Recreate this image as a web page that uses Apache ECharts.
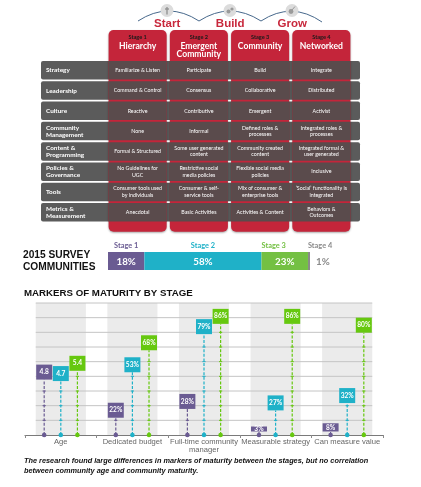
<!DOCTYPE html>
<html><head><meta charset="utf-8">
<script src="https://cdn.jsdelivr.net/npm/echarts@6.0.0/dist/echarts.min.js"></script>
<style>html,body{margin:0;padding:0;background:#fff}#c{width:421px;height:487px}</style>
</head><body><div id="c"></div>
<script>
// ---------- data ----------
const journey = ['Start', 'Build', 'Grow'];
const stageNames = ['Stage 1', 'Stage 2', 'Stage 3', 'Stage 4'];
const stageTitles = ['Hierarchy', 'Emergent\nCommunity', 'Community', 'Networked'];
const rowLabels = ['Strategy', 'Leadership', 'Culture', 'Community\nManagement', 'Content &\nProgramming', 'Policies &\nGovernance', 'Tools', 'Metrics &\nMeasurement'];
const strategyRow = ['Familiarize & Listen', 'Participate', 'Build', 'Integrate'];
const leadershipRow = ['Command & Control', 'Consensus', 'Collaborative', 'Distributed'];
const cultureRow = ['Reactive', 'Contributive', 'Emergent', 'Activist'];
const communityMgmtRow = ['None', 'Informal', 'Defined roles &\nprocesses', 'Integrated roles &\nprocesses'];
const contentRow = ['Formal & Structured', 'Some user generated\ncontent', 'Community created\ncontent', 'Integrated formal &\nuser generated'];
const policiesRow = ['No Guidelines for\nUGC', 'Restrictive social\nmedia policies', 'Flexible social media\npolicies', 'Inclusive'];
const toolsRow = ['Consumer tools used\nby individuals', 'Consumer & self-\nservice tools', 'Mix of consumer &\nenterprise tools', '\u2018Social\u2019 functionality is\nintegrated'];
const metricsRow = ['Anecdotal', 'Basic Activities', 'Activities & Content', 'Behaviors &\nOutcomes'];
const tableRows = [strategyRow, leadershipRow, cultureRow, communityMgmtRow, contentRow, policiesRow, toolsRow, metricsRow];

const surveyTitle = '2015 SURVEY\nCOMMUNITIES';
const surveyStages = ['Stage 1', 'Stage 2', 'Stage 3', 'Stage 4'];
const surveyShare = [18, 58, 23, 1];

const markersTitle = 'MARKERS OF MATURITY BY STAGE';
const markerCategories = ['Age', 'Dedicated budget', 'Full-time community\nmanager', 'Measurable strategy', 'Can measure value'];
const markerStages = ['Stage 1', 'Stage 2', 'Stage 3'];
const stage1Markers = [4.8, 22, 28, 3, 8];
const stage2Markers = [4.7, 53, 79, 27, 32];
const stage3Markers = [5.4, 68, 86, 86, 80];
const markerUnits = ['', '%', '%', '%', '%'];
const ageScale = 10;           // 1 year of age is drawn like 10 points on the % axis
const gridValues = [10, 20, 30, 40, 50, 60, 70, 80, 90];
const caption = 'The research found large differences in markers of maturity between the stages, but no correlation\nbetween community age and community maturity.';

// ---------- styles ----------
const RED = '#c4253a';
const surveyColors = ['#6a5b92', '#1fb1c8', '#74c043', '#8a8a8a'];
const markerColors = ['#6a5b92', '#1fb1c8', '#66c80f'];
const TF = 'Lato, "Liberation Sans", sans-serif';

const chart = echarts.init(document.getElementById('c'), null, {renderer: 'canvas'});

// ---- table renderers ----
function rowBandRender(params, api) {
  const r = api.value(1);
  const cs = params.coordSys;
  const c = api.coord([0, r]);
  const bh = api.size([0, 1])[1];
  const top = c[1] - bh / 2;
  const h = bh - 1.8;
  const left = cs.x - 66;
  return {type: 'group', children: [
    {type: 'rect', shape: {x: left, y: top, width: cs.width + 74, height: h, r: 2}, style: {fill: '#5b5b5b'}},
    {type: 'text', style: {x: left + 5, y: top + h / 2, text: rowLabels[r], fill: '#fff', fontFamily: TF, fontWeight: 'bold', fontSize: 6.4, lineHeight: 7, verticalAlign: 'middle', align: 'left'}}
  ]};
}
function columnRender(params, api) {
  const i = api.value(0);
  const cs = params.coordSys;
  const cx = api.coord([i, 0])[0];
  const w = api.size([1, 0])[0] - 3.2;
  const top = cs.y - 31;
  const bottom = cs.y + cs.height + 8.5;
  return {type: 'group', children: [
    {type: 'rect', shape: {x: cx - w / 2, y: top, width: w, height: bottom - top, r: 5}, style: {fill: RED, shadowBlur: 2, shadowColor: 'rgba(0,0,0,0.35)', shadowOffsetY: 1}},
    {type: 'text', style: {x: cx, y: top + 7.5, text: stageNames[i], fill: '#1a1a1a', fontFamily: TF, fontWeight: 'bold', fontSize: 5.6, align: 'center', verticalAlign: 'middle'}},
    {type: 'text', style: {x: cx, y: top + 12, text: stageTitles[i], fill: '#fff', fontFamily: TF, fontWeight: 'bold', fontSize: 8.6, lineHeight: 8.4, align: 'center', verticalAlign: 'top'}}
  ]};
}
function cellRender(params, api) {
  const col = api.value(0), row = api.value(1);
  const c = api.coord([col, row]);
  const bw = api.size([1, 0])[0] - 3.2;
  const bh = api.size([0, 1])[1];
  const top = c[1] - bh / 2;
  const h = bh - 1.8;
  return {type: 'group', children: [
    {type: 'rect', shape: {x: c[0] - bw / 2, y: top, width: bw, height: h}, style: {fill: '#5a4b4c'}},
    {type: 'text', style: {x: c[0], y: top + h / 2, text: tableRows[row][col], fill: '#fff', fontFamily: TF, fontSize: 5.3, lineHeight: 6.6, align: 'center', verticalAlign: 'middle'}}
  ]};
}

// ---- survey bar ----
const surveyStarts = surveyShare.map((v, i) => surveyShare.slice(0, i).reduce((a, b) => a + b, 0));
function surveyRender(params, api) {
  const s = api.value(0), v = api.value(1), i = api.value(2);
  const p0 = api.coord([s, 0]);
  const p1 = api.coord([s + v, 0]);
  const h = api.size([0, 1])[1];
  const top = p0[1] - h / 2;
  const col = surveyColors[i];
  const ch = [
    {type: 'rect', shape: {x: p0[0], y: top, width: p1[0] - p0[0], height: h}, style: {fill: col}}
  ];
  const pct = surveyShare[i] + '%';
  if (i < 3) {
    ch.push({type: 'text', style: {x: (p0[0] + p1[0]) / 2, y: p0[1] + 0.5, text: pct, fill: '#fff', fontFamily: TF, fontWeight: 'bold', fontSize: 9.8, align: 'center', verticalAlign: 'middle'}});
  } else {
    ch.push({type: 'text', style: {x: p1[0] + 6, y: p0[1] + 0.5, text: pct, fill: col, fontFamily: TF, fontWeight: 'bold', fontSize: 9.8, align: 'left', verticalAlign: 'middle'}});
  }
  const centred = i < 2;
  ch.push({type: 'text', style: {x: centred ? (p0[0] + p1[0]) / 2 : p0[0], y: top - 2.5, text: surveyStages[i], fill: col, fontFamily: TF, fontWeight: 'bold', fontSize: 7.4, align: centred ? 'center' : 'left', verticalAlign: 'bottom'}});
  return {type: 'group', children: ch};
}

// ---- markers ----
function bandRender(params, api) {
  const i = api.value(0);
  const bw = api.size([1, 0])[0];
  const b = api.coord([i, 0]);
  const t = api.coord([i, gridValues[gridValues.length - 1]]);
  return {type: 'rect', shape: {x: b[0] - bw * 0.35, y: t[1], width: bw * 0.7, height: b[1] - t[1]}, style: {fill: '#ebebeb'}};
}
function gridRender(params, api) {
  const v = api.value(0);
  const bw = api.size([1, 0])[0];
  const a = api.coord([0, v]);
  const b = api.coord([markerCategories.length - 1, v]);
  return {type: 'line', shape: {x1: a[0] - bw * 0.35, y1: a[1], x2: b[0] + bw * 0.35, y2: b[1]}, style: {stroke: '#c4c4c4', lineWidth: 1}};
}
const markerSets = [stage1Markers, stage2Markers, stage3Markers];
function stemRenderer(s) {
  const color = markerColors[s];
  return function (params, api) {
    const i = api.value(0), v = api.value(1);
    const bw = api.size([1, 0])[0];
    const base = api.coord([i, 0]);
    const x = base[0] + (s - 1) * 0.232 * bw;
    const y0 = base[1];
    const yv = api.coord([i, v])[1];
    let top = yv, bottom = Math.min(yv + 15, y0 - 3.5);
    if (bottom - top < 5) top = bottom - 5;
    const ch = [];
    ch.push({type: 'line', shape: {x1: x, y1: y0, x2: x, y2: bottom}, style: {stroke: color, lineWidth: 1.2, lineDash: [3, 1.6]}});
    gridValues.forEach(g => {
      const yg = api.coord([i, g])[1];
      if (yg > bottom + 1.5) ch.push({type: 'line', shape: {x1: x - 1.6, y1: yg, x2: x + 1.6, y2: yg}, style: {stroke: color, lineWidth: 1}});
    });
    ch.push({type: 'circle', shape: {cx: x, cy: y0, r: 2.3}, style: {fill: color}});
    ch.push({type: 'rect', shape: {x: x - 8, y: top, width: 16, height: bottom - top}, style: {fill: color}});
    const raw = markerSets[s][i];
    ch.push({type: 'text', style: {x: x, y: Math.min((top + bottom) / 2, top + 7.5), text: raw + markerUnits[i], fill: '#fff', fontFamily: TF, fontWeight: 'bold', fontSize: 6.6, align: 'center', verticalAlign: 'middle'}});
    return {type: 'group', children: ch};
  };
}

// ---- decorative journey arc ----
const arcPts = [[138, 21], [199, 21], [261, 21], [322, 22]];
const circleX = [167, 230, 292];
const graphic = [];
for (let k = 0; k < 3; k++) {
  graphic.push({type: 'bezierCurve', shape: {x1: arcPts[k][0], y1: arcPts[k][1], x2: arcPts[k + 1][0], y2: arcPts[k + 1][1], cpx1: (arcPts[k][0] + arcPts[k + 1][0]) / 2, cpy1: 1}, style: {stroke: '#48698c', lineWidth: 1, fill: null}, z: 1});
}
circleX.forEach((cx, k) => {
  graphic.push({type: 'circle', shape: {cx: cx, cy: 10.5, r: 6.5}, style: {fill: '#dcdcdc'}, z: 2});
  graphic.push({type: 'text', style: {x: circleX[k] + 0.2, y: 23.5, text: journey[k], fill: '#c8283c', font: 'bold 11.5px "Liberation Sans", Arial, sans-serif', align: 'center', verticalAlign: 'middle'}, z: 2});
});
// tiny icon glyphs
graphic.push({type: 'line', shape: {x1: 167, y1: 7, x2: 167, y2: 14.5}, style: {stroke: '#8e8e8e', lineWidth: 1.3}, z: 3});
graphic.push({type: 'line', shape: {x1: 165, y1: 9, x2: 169, y2: 9}, style: {stroke: '#8e8e8e', lineWidth: 1.3}, z: 3});
graphic.push({type: 'circle', shape: {cx: 228.5, cy: 11.5, r: 2}, style: {fill: '#9a9a9a'}, z: 3});
graphic.push({type: 'circle', shape: {cx: 232, cy: 9, r: 1.6}, style: {fill: '#9a9a9a'}, z: 3});
graphic.push({type: 'circle', shape: {cx: 291, cy: 11.5, r: 2.4}, style: {fill: '#9a9a9a'}, z: 3});
graphic.push({type: 'line', shape: {x1: 292, y1: 10, x2: 295, y2: 6.5}, style: {stroke: '#9a9a9a', lineWidth: 1}, z: 3});

const option = {
  animation: false,
  backgroundColor: '#fff',
  title: [
    {text: surveyTitle, left: 23, top: 249.5, padding: 0, textStyle: {fontFamily: '"Liberation Sans", sans-serif', fontWeight: 'bold', fontSize: 10.2, lineHeight: 11.6, color: '#111'}},
    {text: markersTitle, left: 24, top: 288, padding: 0, textStyle: {fontFamily: '"Liberation Sans", sans-serif', fontWeight: 'bold', fontSize: 9.7, color: '#111'}},
    {text: caption, left: 24, top: 456.5, padding: 0, textStyle: {fontFamily: '"Liberation Sans", sans-serif', fontStyle: 'italic', fontWeight: 'bold', fontSize: 7.35, lineHeight: 9.6, color: '#111'}}
  ],
  graphic: graphic,
  grid: [
    {left: 107, top: 61, width: 245, height: 162.3},
    {left: 108, top: 252, width: 202, height: 18},
    {left: 25, right: 38, top: 303, bottom: 52}
  ],
  xAxis: [
    {gridIndex: 0, type: 'category', data: stageNames, show: false},
    {gridIndex: 1, type: 'value', min: 0, max: 100, show: false},
    {gridIndex: 2, type: 'category', data: markerCategories,
      axisLine: {lineStyle: {color: '#7a7a7a', width: 1.2}},
      axisTick: {show: true, length: 3, lineStyle: {color: '#8a8a8a'}},
      axisLabel: {color: '#666', fontFamily: '"Liberation Sans", sans-serif', fontSize: 7.6, lineHeight: 8, margin: 3, interval: 0}}
  ],
  yAxis: [
    {gridIndex: 0, type: 'category', data: rowLabels, inverse: true, show: false},
    {gridIndex: 1, type: 'category', data: ['2015'], show: false},
    {gridIndex: 2, type: 'value', min: 0, max: 90, interval: 10, axisLabel: {show: false}, axisLine: {show: false}, axisTick: {show: false}, splitLine: {show: false}}
  ],
  series: [
    {type: 'custom', xAxisIndex: 0, yAxisIndex: 0, renderItem: rowBandRender, data: rowLabels.map((r, i) => [0, i]), z: 1, silent: true},
    {type: 'custom', xAxisIndex: 0, yAxisIndex: 0, renderItem: columnRender, data: stageNames.map((s, i) => [i, 0]), z: 2, silent: true},
    {type: 'custom', xAxisIndex: 0, yAxisIndex: 0, renderItem: cellRender, data: tableRows.flatMap((row, r) => row.map((t, c) => [c, r])), z: 3, silent: true},
    {type: 'custom', xAxisIndex: 1, yAxisIndex: 1, renderItem: surveyRender, data: surveyShare.map((v, i) => [surveyStarts[i], v, i]), z: 3, silent: true},
    {type: 'custom', xAxisIndex: 2, yAxisIndex: 2, renderItem: bandRender, data: markerCategories.map((c, i) => [i, 0]), z: 1, silent: true},
    {type: 'custom', xAxisIndex: 2, yAxisIndex: 2, renderItem: gridRender, data: gridValues.map(v => [v]), encode: {x: -1, y: 0}, z: 2, silent: true},
    ...markerStages.map((name, s) => ({
      type: 'custom', name: name, xAxisIndex: 2, yAxisIndex: 2, renderItem: stemRenderer(s), z: 4, silent: true,
      data: markerSets[s].map((v, i) => [i, markerUnits[i] === '' ? v * ageScale : v])
    }))
  ]
};
chart.setOption(option);
</script>
</body></html>
